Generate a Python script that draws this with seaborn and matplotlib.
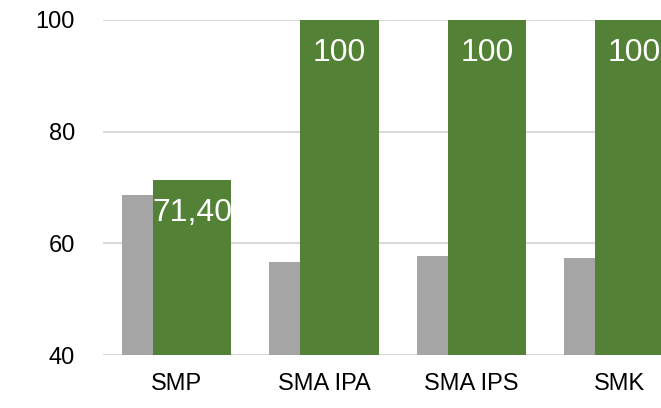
import matplotlib
matplotlib.use('Agg')
import matplotlib.pyplot as plt
import seaborn as sns
import pandas as pd

# Data
categories = ['SMP', 'SMA IPA', 'SMA IPS', 'SMK']
grey_values = [68.7, 56.6, 57.8, 57.3]
green_values = [71.40, 100, 100, 100]

GREY = '#a5a5a5'
GREEN = '#538135'
GRID = '#d9d9d9'


def fmt(v):
    # Excel-style label with a decimal comma
    if float(v).is_integer():
        return f'{int(v)}'
    return f'{v:.2f}'.replace('.', ',')


def main():
    sns.set_theme(style='white')
    plt.rcParams['font.family'] = ['Liberation Sans', 'DejaVu Sans']

    idx = list(range(len(categories)))
    shift = 0.105
    df = pd.DataFrame({
        'pos_grey': [i - shift for i in idx],
        'pos_green': [i + shift for i in idx],
        'grey': grey_values,
        'green': green_values,
    })

    fig = plt.figure(figsize=(6.61, 4.08), dpi=100)
    # axes runs past the right edge, like the cropped original
    ax = fig.add_axes([0.1554, 0.1299, 0.8926, 0.8211])

    sns.barplot(data=df, x='pos_grey', y='grey', native_scale=True, orient='x',
                width=0.53, color=GREY, saturation=1, errorbar=None,
                linewidth=0, ax=ax, zorder=2)
    sns.barplot(data=df, x='pos_green', y='green', native_scale=True, orient='x',
                width=0.53, color=GREEN, saturation=1, errorbar=None,
                linewidth=0, ax=ax, zorder=3)

    for x, v in zip(df['pos_green'], green_values):
        ax.annotate(fmt(v), xy=(x, v), xytext=(0, -13.3), textcoords='offset points',
                    ha='center', va='top', color='white', fontsize=23, zorder=4,
                    annotation_clip=False)

    ax.set_xlim(-0.5, len(categories) - 0.5)
    ax.set_ylim(40, 100)
    ax.set_yticks([40, 60, 80, 100])
    ax.set_xticks(idx)
    ax.set_xticklabels(categories)
    ax.set_xlabel('')
    ax.set_ylabel('')

    ax.yaxis.grid(True, color=GRID, linewidth=1.5, zorder=0)
    ax.set_axisbelow(True)
    for s in ax.spines.values():
        s.set_visible(False)

    ax.tick_params(axis='y', length=0, pad=20, labelsize=17, labelcolor='black')
    ax.tick_params(axis='x', length=0, pad=13, labelsize=17, labelcolor='black')

    fig.savefig('out.png', dpi=100)
    plt.close(fig)


if __name__ == '__main__':
    main()
